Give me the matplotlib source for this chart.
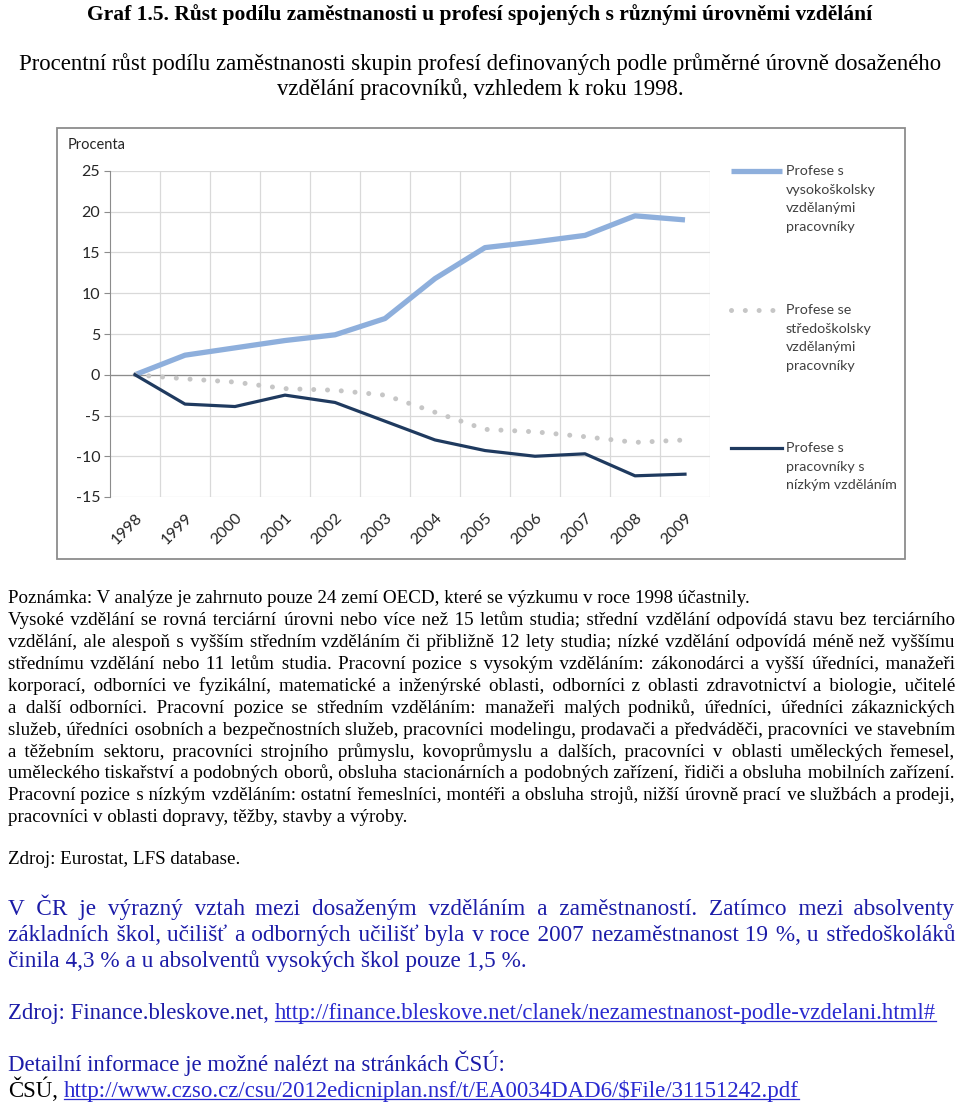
import matplotlib
matplotlib.use("Agg")
import matplotlib.pyplot as plt
import numpy as np
from matplotlib.patches import Rectangle

# ---------------- data ----------------
years = ["1998", "1999", "2000", "2001", "2002", "2003", "2004", "2005",
         "2006", "2007", "2008", "2009"]
high_edu = [0, 2.4, 3.3, 4.2, 4.9, 6.9, 11.8, 15.6, 16.3, 17.1, 19.5, 19.0]
mid_edu = [0, -0.5, -0.9, -1.7, -1.9, -2.5, -4.6, -6.7, -7.0, -7.6, -8.3, -8.0]
low_edu = [0, -3.6, -3.9, -2.5, -3.4, -5.7, -8.0, -9.3, -10.0, -9.7, -12.4, -12.2]
series_names = ["Profese s\nvysokoškolsky\nvzdělanými\npracovníky",
                "Profese se\nstředoškolsky\nvzdělanými\npracovníky",
                "Profese s\npracovníky s\nnízkým vzděláním"]
y_ticks = [-15, -10, -5, 0, 5, 10, 15, 20, 25]

title = "Graf 1.5. Růst podílu zaměstnanosti u profesí spojených s různými úrovněmi vzdělání"
subtitle1 = "Procentní růst podílu zaměstnanosti skupin profesí definovaných podle průměrné úrovně dosaženého"
subtitle2 = "vzdělání pracovníků, vzhledem k roku 1998."
note_lines = [
    "Poznámka: V analýze je zahrnuto pouze 24 zemí OECD, které se výzkumu v roce 1998 účastnily.",
    "Vysoké vzdělání se rovná terciární úrovni nebo více než 15 letům studia; střední vzdělání odpovídá stavu bez terciárního",
    "vzdělání, ale alespoň s vyšším středním vzděláním či přibližně 12 lety studia; nízké vzdělání odpovídá méně než vyššímu",
    "střednímu vzdělání nebo 11 letům studia. Pracovní pozice s vysokým vzděláním: zákonodárci a vyšší úředníci, manažeři",
    "korporací, odborníci ve fyzikální, matematické a inženýrské oblasti, odborníci z oblasti zdravotnictví a biologie, učitelé",
    "a další odborníci. Pracovní pozice se středním vzděláním: manažeři malých podniků, úředníci, úředníci zákaznických",
    "služeb, úředníci osobních a bezpečnostních služeb, pracovníci modelingu, prodavači a předváděči, pracovníci ve stavebním",
    "a těžebním sektoru, pracovníci strojního průmyslu, kovoprůmyslu a dalších, pracovníci v oblasti uměleckých řemesel,",
    "uměleckého tiskařství a podobných oborů, obsluha stacionárních a podobných zařízení, řidiči a obsluha mobilních zařízení.",
    "Pracovní pozice s nízkým vzděláním: ostatní řemeslníci, montéři a obsluha strojů, nižší úrovně prací ve službách a prodeji,",
    "pracovníci v oblasti dopravy, těžby, stavby a výroby.",
]
note_justified = [False, True, True, True, True, True, True, True, True, True, False]
source1 = "Zdroj: Eurostat, LFS database."
blue_lines = [
    "V ČR je výrazný vztah mezi dosaženým vzděláním a zaměstnaností. Zatímco mezi absolventy",
    "základních škol, učilišť a odborných učilišť byla v roce 2007 nezaměstnanost 19 %, u středoškoláků",
    "činila 4,3 % a u absolventů vysokých škol pouze 1,5 %.",
]
blue_justified = [True, True, False]
source2_prefix = "Zdroj: Finance.bleskove.net,"
source2_link = "http://finance.bleskove.net/clanek/nezamestnanost-podle-vzdelani.html#"
detail_text = "Detailní informace je možné nalézt na stránkách ČSÚ:"
csu_prefix = "ČSÚ,"
csu_link = "http://www.czso.cz/csu/2012edicniplan.nsf/t/EA0034DAD6/$File/31151242.pdf"

# ---------------- figure ----------------
W, H = 960, 1106
fig = plt.figure(figsize=(W / 100, H / 100), dpi=100)
fig.patch.set_facecolor("white")
bg = fig.add_axes([0, 0, 1, 1])
bg.set_xlim(0, W)
bg.set_ylim(H, 0)
bg.axis("off")
renderer = fig.canvas.get_renderer()

SERIF = ["Liberation Serif", "DejaVu Serif"]
SANS = "Lato"
BLUE_TXT = "#1c1ca8"
LINK = "#2a2ad0"
HAIR = "\u200a"


def width_of(s, size, weight="normal"):
    t = bg.text(0, 0, s, fontsize=size, family=SERIF, weight=weight)
    w = t.get_window_extent(renderer).width
    t.remove()
    return w


def fit_size(s, target, weight="normal"):
    base = 12.0
    return base * target / width_of(s, base, weight)


def base_y(yc, size):
    return yc + 0.33 * size * 100 / 72


def put(x, yc, s, size, color="black", weight="normal"):
    bg.text(x, base_y(yc, size), s, fontsize=size, family=SERIF, color=color,
            weight=weight, ha="left", va="baseline")


def justify_string(s, target, size):
    """Widen the word gaps of one line with hair spaces so it spans target px."""
    words = s.split(" ")
    n = len(words) - 1
    extra = target - width_of(s, size)
    h = (width_of("a" + HAIR * 10 + "b", size) - width_of("ab", size)) / 10.0
    if extra <= 0 or h <= 0:
        return s
    per = extra / n
    out = words[0]
    prev = 0
    for i in range(n):
        k = int(round(per * (i + 1) / h))
        out += " " + HAIR * (k - prev) + words[i + 1]
        prev = k
    return out


def place_line(s, x0, x1, y, size, color="black", justify=False):
    if justify:
        s = justify_string(s, x1 - x0, size)
    put(x0, y, s, size, color)


def underline_text(x, y, s, size, color):
    put(x, y, s, size, color)
    w = width_of(s, size)
    yb = base_y(y, size) + 2.2
    bg.plot([x, x + w], [yb, yb], color=color, lw=0.9)
    return w


def space_w(size):
    return width_of("a b", size) - width_of("ab", size)


# title & subtitle
ts = fit_size(title, 778, weight="bold")
bg.text(480, base_y(13, ts), title, fontsize=ts, family=SERIF, weight="bold",
        ha="center", va="baseline")
ss = fit_size(subtitle1, 922)
bg.text(480, base_y(62, ss), subtitle1, fontsize=ss, family=SERIF, ha="center", va="baseline")
bg.text(480, base_y(87, ss), subtitle2, fontsize=ss, family=SERIF, ha="center", va="baseline")

# chart frame
bg.add_patch(Rectangle((57, 128), 848, 431, fill=False, edgecolor="#8c8c8c", lw=1.3))

# chart axes
ax = fig.add_axes([110 / W, 1 - 497 / H, 600 / W, 326 / H])
x = np.arange(len(years))
ax.set_xlim(-0.5, len(years) - 0.5)
ax.set_ylim(-15, 25)
ax.set_yticks(y_ticks)
ax.set_yticklabels([str(v) for v in y_ticks], family=SANS, fontsize=11.5, color="#262626")
ax.set_xticks(x)
ax.set_xticklabels(years, rotation=45, ha="right", rotation_mode="anchor",
                   family=SANS, fontsize=11.5, color="#262626")
ax.set_xticks(np.arange(0.5, len(years), 1), minor=True)
ax.tick_params(axis="x", which="both", length=0, pad=10)
ax.tick_params(axis="y", length=4, color="#8c8c8c", pad=3)
ax.grid(True, axis="y", color="#d9d9d9", lw=0.9)
ax.grid(True, axis="x", which="minor", color="#d9d9d9", lw=0.9)
ax.grid(False, axis="x", which="major")
for s in ["top", "right", "bottom"]:
    ax.spines[s].set_visible(False)
ax.spines["left"].set_color("#8c8c8c")
ax.axhline(0, color="#8c8c8c", lw=0.9, zorder=1.5)
ax.set_axisbelow(True)

c_high, c_mid, c_low = "#8eafdc", "#c6c6c6", "#1f3a5f"
ax.plot(x, high_edu, color=c_high, lw=3.8, solid_capstyle="butt", zorder=3)
ax.plot(x, mid_edu, color=c_mid, lw=3.6, linestyle=(0, (0.01, 2.75)),
        dash_capstyle="round", zorder=3)
ax.plot(x, low_edu, color=c_low, lw=2.3, zorder=4)

bg.text(68, 145, "Procenta", family=SANS, fontsize=10.5, color="#262626",
        ha="left", va="center")

# legend
leg_y = [171, 310, 448]
styles = [dict(color=c_high, lw=3.8, solid_capstyle="butt"),
          dict(color=c_mid, lw=3.6, linestyle=(0, (0.01, 2.75)), dash_capstyle="round"),
          dict(color=c_low, lw=2.3)]
for yy, name, st in zip(leg_y, series_names, styles):
    bg.plot([731, 782], [yy, yy], **st)
    for i, ln in enumerate(name.split("\n")):
        bg.text(786, yy + i * 18.7, ln, family=SANS, fontsize=10.3, color="#404040",
                ha="left", va="center")

# note paragraph
ns = fit_size(note_lines[0], 742)
for i, (ln, j) in enumerate(zip(note_lines, note_justified)):
    place_line(ln, 8, 955, 597 + i * 21.9, ns, justify=j)

put(8, 858, source1, ns)

# blue paragraph
bs = min(fit_size(blue_lines[2], 537), fit_size(blue_lines[1], 930))
for i, (ln, j) in enumerate(zip(blue_lines, blue_justified)):
    place_line(ln, 8, 955, 907 + i * 26, bs, color=BLUE_TXT, justify=j)

# sources with links
s2 = fit_size(source2_prefix + " " + source2_link, 927)
put(8, 1011, source2_prefix, s2, BLUE_TXT)
xl = 8 + width_of(source2_prefix, s2) + space_w(s2)
underline_text(xl, 1011, source2_link, s2, LINK)

put(8, 1063, detail_text, fit_size(detail_text, 495), BLUE_TXT)
s3 = fit_size(csu_prefix + " " + csu_link, 792)
put(8, 1089, csu_prefix, s3, "black")
xl = 8 + width_of(csu_prefix, s3) + space_w(s3)
underline_text(xl, 1089, csu_link, s3, LINK)

fig.savefig("out.png", dpi=100, facecolor="white")
